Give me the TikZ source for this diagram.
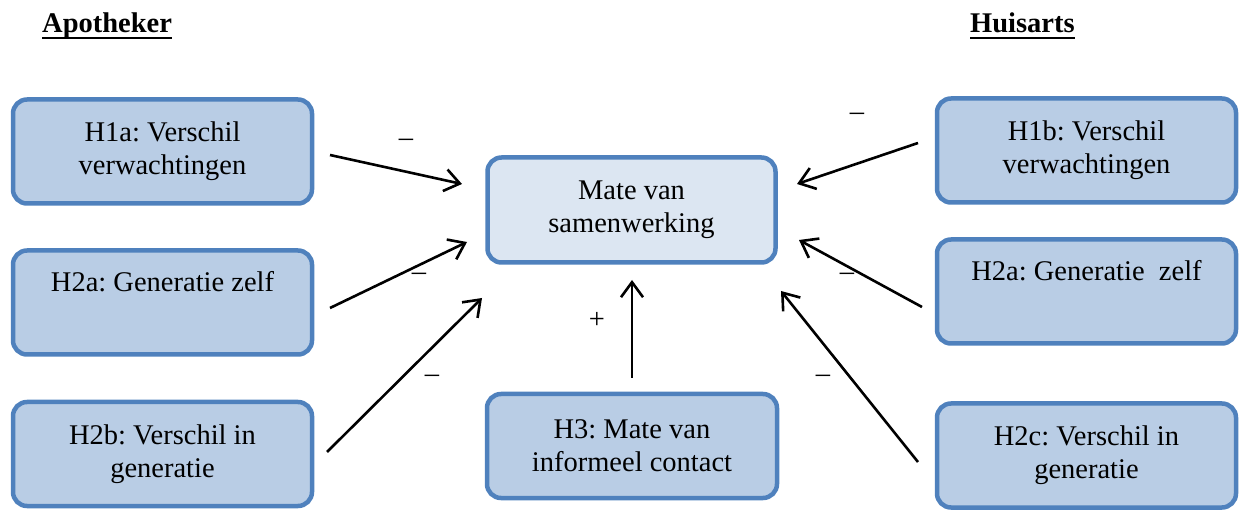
\documentclass[tikz,border=0pt]{standalone}
\usepackage{fontspec}
\setmainfont{Liberation Serif}
\usetikzlibrary{arrows.meta}
\definecolor{boxline}{HTML}{4F81BD}
\definecolor{boxfill}{HTML}{B9CDE5}
\definecolor{corefill}{HTML}{DCE6F2}
\frenchspacing
\begin{document}
\begin{tikzpicture}[x=1pt,y=-1pt,
  hyp/.style={draw=boxline, line width=4.5pt, fill=boxfill, rounded corners=14pt,
    minimum width=299pt, minimum height=104pt, inner sep=0pt, align=center,
    font=\fontsize{28.5}{33}\selectfont},
  core/.style={hyp, fill=corefill, minimum width=288pt, minimum height=105pt},
  link/.style={line width=2.6pt,
    -{Straight Barb[length=15pt,width=22pt,line width=2.6pt]}},
  sign/.style={font=\fontsize{28.5}{33}\selectfont, inner sep=0pt},
  head/.style={font=\bfseries\fontsize{28.5}{33}\selectfont, inner sep=0pt, anchor=base west},
  uline/.style={line width=2.6pt}]
\useasboundingbox (0,0) rectangle (1240,510);

% column headings
\node[head] (apo) at (42,33) {Apotheker};
\node[head] (hui) at (970,33) {Huisarts};
\draw[uline] ([yshift=-5pt]apo.base west) -- ([yshift=-5pt]apo.base east);
\draw[uline] ([yshift=-5pt]hui.base west) -- ([yshift=-5pt]hui.base east);

% hypothesis boxes
\node[hyp] (h1a) at (162.5,151.5) {H1a: Verschil\\verwachtingen};
\node[hyp] (h2a) at (162.5,302.5) {H2a: Generatie zelf\\\strut};
\node[hyp] (h2b) at (162.5,454) {H2b: Verschil in\\generatie};
\node[core] (mate) at (631.5,210) {Mate van\\samenwerking};
\node[hyp, minimum width=290pt] (h3) at (632,446) {H3: Mate van\\informeel contact};
\node[hyp] (h1b) at (1086.5,150.5) {H1b: Verschil\\verwachtingen};
\node[hyp] (h2ar) at (1086.5,291.5) {H2a: Generatie\ \ zelf\\\strut};
\node[hyp] (h2c) at (1086.5,455.5) {H2c: Verschil in\\generatie};

% arrow end points
\coordinate (s1) at (330,155);  \coordinate (e1) at (462,184);
\coordinate (s2) at (330,308);  \coordinate (e2) at (467,242);
\coordinate (s3) at (327,452);  \coordinate (e3) at (482,298);
\coordinate (s4) at (632,378);  \coordinate (e4) at (632,280);
\coordinate (s5) at (918,143);  \coordinate (e5) at (797,184);
\coordinate (s6) at (922,307);  \coordinate (e6) at (799,240);
\coordinate (s7) at (918,462);  \coordinate (e7) at (781,291);

\draw[link] (s1) -- (e1);
\draw[link] (s2) -- (e2);
\draw[link] (s3) -- (e3);
\draw[link] (s4) -- (e4);
\draw[link] (s5) -- (e5);
\draw[link] (s6) -- (e6);
\draw[link] (s7) -- (e7);

% effect signs
\node[sign] (m1) at (406,143) {–};
\node[sign] (m2) at (419,277) {–};
\node[sign] (m3) at (432,379) {–};
\node[sign] (p4) at (597,320) {+};
\node[sign] (m5) at (857,117) {–};
\node[sign] (m6) at (847,277) {–};
\node[sign] (m7) at (823,379) {–};
\end{tikzpicture}
\end{document}
